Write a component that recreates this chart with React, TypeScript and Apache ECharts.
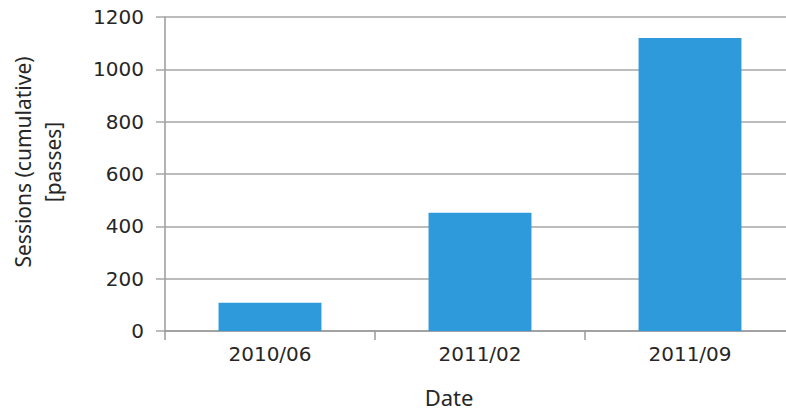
import React, { useEffect, useRef } from "react";
import * as echarts from "echarts";

const categories = ["2010/06", "2011/02", "2011/09"];
const sessions = [108, 452, 1120];
const yAxisTitleLines = ["Sessions (cumulative)", "[passes]"];
const xAxisTitle = "Date";

const TICK_FONT = "'DejaVu Sans', 'Noto Sans', sans-serif";
const TITLE_FONT = "'Noto Sans', 'Open Sans', sans-serif";
const TEXT = "#262626";

export default function App() {
  const ref = useRef<HTMLDivElement>(null);
  useEffect(() => {
    if (!ref.current) return;
    const chart = echarts.init(ref.current, null, { renderer: "svg" });
    chart.setOption({
      animation: false,
      backgroundColor: "#ffffff",
      grid: { left: 165, right: 0, top: 17, bottom: 80, containLabel: false },
      xAxis: {
        type: "category",
        data: categories,
        axisLine: { show: true, lineStyle: { color: "#9a9a9a", width: 1.5 } },
        axisTick: { show: true, length: 9, alignWithLabel: false, lineStyle: { color: "#9a9a9a", width: 1.5 } },
        axisLabel: { color: TEXT, fontSize: 20, fontFamily: TICK_FONT, margin: 13 },
        splitLine: { show: false },
      },
      yAxis: {
        type: "value",
        min: 0,
        max: 1200,
        interval: 200,
        axisLine: { show: true, lineStyle: { color: "#9a9a9a", width: 1.5 } },
        axisTick: { show: true, length: 9, lineStyle: { color: "#a6a6a6", width: 1.5 } },
        axisLabel: {
          color: TEXT,
          fontSize: 20,
          fontFamily: TICK_FONT,
          margin: 21,
          formatter: (v: number) => String(v),
        },
        splitLine: { show: true, lineStyle: { color: "#a6a6a6", width: 1.5 } },
      },
      graphic: [
        {
          type: "text",
          x: 38,
          y: 162,
          rotation: Math.PI / 2,
          style: {
            text: yAxisTitleLines.join("\n"),
            fill: TEXT,
            font: `21px ${TITLE_FONT}`,
            align: "center",
            verticalAlign: "middle",
            lineHeight: 30,
          },
        },
        {
          type: "text",
          x: 449,
          y: 397,
          style: {
            text: xAxisTitle,
            fill: TEXT,
            font: `22px ${TITLE_FONT}`,
            align: "center",
            verticalAlign: "middle",
            lineHeight: 24,
          },
        },
      ],
      series: [
        {
          type: "bar",
          data: sessions,
          barWidth: "49%",
          itemStyle: { color: "#2e9adc" },
        },
      ],
    });
    return () => chart.dispose();
  }, []);
  return (
    <div style={{ position: "absolute", left: 0, top: 0, width: 786, height: 411, overflow: "hidden" }}>
      <div ref={ref} style={{ width: 795, height: 411 }} />
    </div>
  );
}
